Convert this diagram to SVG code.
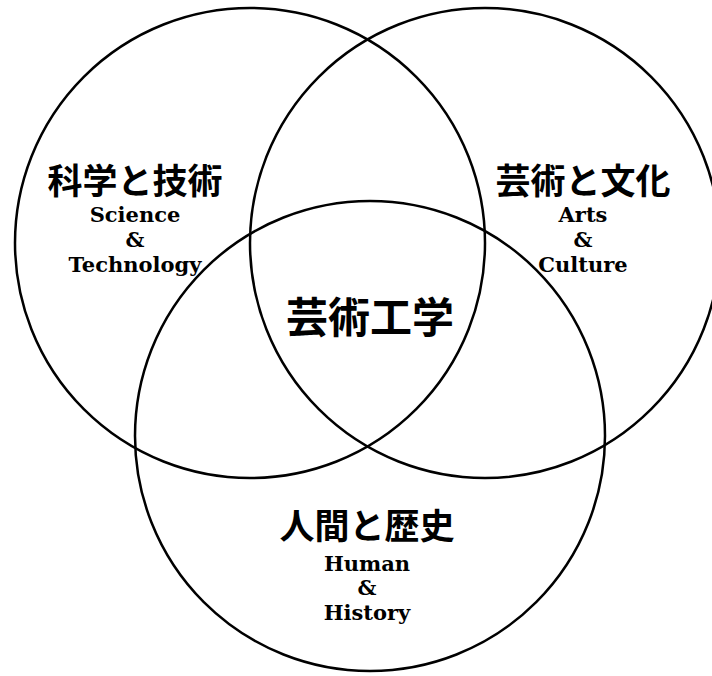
<svg xmlns="http://www.w3.org/2000/svg" width="712" height="676" viewBox="0 0 712 676">
<style>
.c{fill:none;stroke:#000;stroke-width:2.5}
.jp{font-family:"Noto Sans CJK JP","Noto Sans CJK SC",sans-serif;font-weight:bold;font-size:35px;text-anchor:middle;fill:#000}
.big{font-size:42px}
.en{font-family:"DejaVu Serif","Liberation Serif",serif;font-weight:bold;font-size:21px;text-anchor:middle;fill:#000}
</style>
<rect width="712" height="676" fill="#fff"/>
<g id="circle-science">
<circle class="c" cx="250" cy="243" r="235"/>
<text class="jp" x="135" y="194">科学と技術</text>
<text class="en" x="135" y="222">Science</text>
<text class="en" x="135" y="247">&amp;</text>
<text class="en" x="135" y="272">Technology</text>
</g>
<g id="circle-arts">
<circle class="c" cx="485" cy="243" r="235"/>
<text class="jp" x="583" y="194">芸術と文化</text>
<text class="en" x="583" y="222">Arts</text>
<text class="en" x="583" y="247">&amp;</text>
<text class="en" x="583" y="272">Culture</text>
</g>
<g id="circle-human">
<circle class="c" cx="370" cy="436" r="235"/>
<text class="jp" x="367" y="539">人間と歴史</text>
<text class="en" x="367" y="571">Human</text>
<text class="en" x="367" y="595">&amp;</text>
<text class="en" x="367" y="620">History</text>
</g>
<g id="center">
<text class="jp big" x="370" y="333">芸術工学</text>
</g>
<g id="connectors"></g>
</svg>
